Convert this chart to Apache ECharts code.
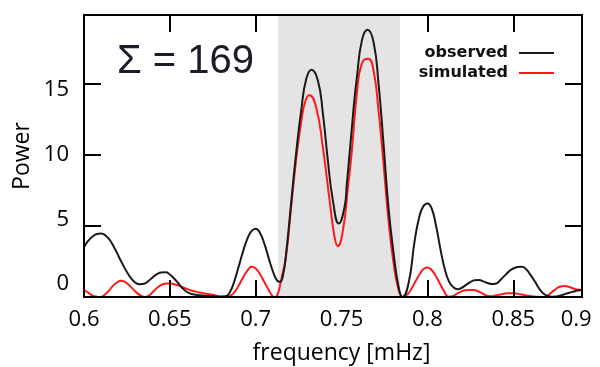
<!DOCTYPE html>
<html><head><meta charset="utf-8">
<script src="https://cdn.jsdelivr.net/npm/echarts@6/dist/echarts.min.js"></script>
<style>html,body{margin:0;padding:0;background:#fff}#c{width:600px;height:367px}</style>
</head><body><div id="c"></div>
<script>
// frequency [mHz], power
const observed = [
[0.600,3.5],[0.6025,3.95],[0.605,4.25],[0.6075,4.42],[0.610,4.45],[0.6125,4.32],[0.615,4.0],[0.6175,3.5],
[0.620,2.9],[0.6225,2.3],[0.625,1.75],[0.6275,1.3],[0.630,1.0],[0.6325,0.9],[0.635,0.93],[0.6375,1.12],
[0.640,1.38],[0.6425,1.6],[0.645,1.72],[0.6475,1.73],[0.650,1.58],[0.6525,1.3],[0.655,0.95],[0.6575,0.6],
[0.660,0.35],[0.6625,0.22],[0.665,0.16],[0.6675,0.12],[0.670,0.09],[0.6725,0.07],[0.675,0.05],[0.6775,0.03],
[0.680,0.02],[0.6825,0.05],[0.685,0.35],[0.6875,1.1],[0.690,2.1],[0.6925,3.15],[0.695,4.05],[0.6975,4.62],
[0.700,4.8],[0.7025,4.5],[0.705,3.75],[0.7075,2.75],[0.710,1.8],[0.7125,1.15],[0.7142,1.07],[0.716,1.6],
[0.7177,3.06],[0.7206,6.57],[0.7235,10.07],[0.7265,13.1],[0.7294,15.3],[0.7325,15.96],[0.7362,15.2],
[0.7391,12.9],[0.742,9.6],[0.7449,6.8],[0.7484,5.16],[0.7517,6.3],[0.7531,8.0],[0.7546,10.0],[0.756,11.9],
[0.7575,13.9],[0.7589,15.4],[0.7618,18.0],[0.7651,18.76],[0.7686,17.9],[0.7715,15.0],[0.7744,10.8],
[0.7773,6.3],[0.7803,3.06],[0.7832,0.72],[0.7855,0.0],[0.789,0.96],[0.7925,3.9],[0.795,5.5],[0.7975,6.35],
[0.800,6.57],[0.8025,6.2],[0.805,5.0],[0.8075,3.4],[0.810,2.0],[0.8125,1.1],[0.815,0.7],[0.8175,0.55],
[0.820,0.65],[0.8225,0.85],[0.825,1.05],[0.8275,1.18],[0.830,1.2],[0.8325,1.1],[0.835,0.98],[0.8375,0.91],
[0.840,0.95],[0.8425,1.2],[0.845,1.5],[0.8475,1.8],[0.850,2.0],[0.8525,2.1],[0.855,2.12],[0.8575,1.95],
[0.860,1.55],[0.8625,1.1],[0.865,0.6],[0.8675,0.25],[0.870,0.08],[0.8725,0.02],[0.875,0.03],[0.8775,0.1],
[0.880,0.2],[0.8825,0.3],[0.885,0.38],[0.8875,0.45],[0.890,0.49]
];
const simulated = [
[0.600,0.5],[0.6025,0.3],[0.605,0.1],[0.6075,0.02],[0.6095,0.0],[0.612,0.15],[0.6145,0.45],[0.617,0.8],
[0.6195,1.05],[0.6215,1.14],[0.624,1.05],[0.6265,0.8],[0.629,0.5],[0.6315,0.22],[0.634,0.04],[0.6355,0.0],
[0.638,0.12],[0.6405,0.4],[0.643,0.68],[0.6455,0.87],[0.648,0.95],[0.6505,0.95],[0.653,0.88],[0.6555,0.78],
[0.658,0.66],[0.6605,0.54],[0.663,0.44],[0.6655,0.36],[0.668,0.3],[0.6705,0.25],[0.673,0.2],[0.6755,0.14],
[0.678,0.08],[0.6805,0.03],[0.683,0.02],[0.6855,0.1],[0.688,0.4],[0.6905,0.9],[0.693,1.45],[0.6955,1.9],
[0.6975,2.12],[0.700,2.0],[0.7025,1.6],[0.705,1.05],[0.7075,0.5],[0.7095,0.1],[0.711,0.0],[0.7125,0.1],
[0.7148,1.2],[0.7177,2.9],[0.7206,6.3],[0.7235,9.6],[0.7265,12.3],[0.729,13.8],[0.7313,14.16],[0.7352,13.3],
[0.7391,10.5],[0.743,6.8],[0.7459,4.2],[0.7478,3.57],[0.7508,4.7],[0.7537,7.7],[0.756,10.3],[0.7589,14.3],
[0.7618,16.4],[0.7655,16.73],[0.7686,15.9],[0.7715,13.1],[0.7744,9.4],[0.7773,5.4],[0.7803,2.36],
[0.7832,0.5],[0.7857,0.0],[0.7885,0.2],[0.791,0.65],[0.7935,1.2],[0.796,1.7],[0.798,2.0],[0.800,2.08],
[0.802,1.95],[0.8045,1.55],[0.807,1.0],[0.8095,0.45],[0.8123,0.02],[0.8145,0.05],[0.817,0.22],[0.8195,0.38],
[0.822,0.47],[0.8245,0.5],[0.827,0.49],[0.8295,0.4],[0.832,0.25],[0.8345,0.1],[0.8366,0.05],[0.839,0.08],
[0.8415,0.15],[0.844,0.22],[0.8465,0.26],[0.849,0.27],[0.8515,0.25],[0.854,0.2],[0.8565,0.14],[0.859,0.08],
[0.8615,0.04],[0.864,0.01],[0.8675,0.0],[0.870,0.12],[0.8725,0.35],[0.875,0.58],[0.8775,0.74],[0.880,0.77],
[0.8825,0.7],[0.885,0.6],[0.8875,0.52],[0.890,0.49]
];
const bandRange = [0.7131, 0.784];
const xTickValues = [0.65, 0.7, 0.8, 0.85];
const xLabelValues = [0.6, 0.65, 0.7, 0.75, 0.8, 0.85, 0.8866];
const xLabelTexts = ['0.6', '0.65', '0.7', '0.75', '0.8', '0.85', '0.9'];
const yTickValues = [5, 10, 15];
const yLabelValues = [0, 5, 10, 15];
const sumText = '\u03A3 = 169';

const chart = echarts.init(document.getElementById('c'), null, {renderer: 'canvas'});
const frameLine = {show: true, onZero: false, lineStyle: {color: '#000', width: 2}};
const tickStyle = {inside: true, length: 17, lineStyle: {color: '#000', width: 2}};
const labelFont = {fontFamily: 'Open Sans', fontSize: 22, color: '#000'};
const nameFont = {fontFamily: 'Open Sans', fontSize: 23, color: '#000'};
chart.setOption({
  animation: false,
  backgroundColor: '#fff',
  title: {text: sumText, left: 117, top: 42, padding: 0,
    textStyle: {fontFamily: 'Liberation Sans', fontSize: 40, fontWeight: 'normal', color: '#1c1c28'}},
  legend: {orient: 'vertical', right: 41, top: 40, align: 'right', icon: 'rect',
    itemWidth: 35, itemHeight: 2, itemGap: 4, data: ['observed', 'simulated'],
    textStyle: {fontFamily: 'DejaVu Sans', fontWeight: 'bold', fontSize: 16, color: '#111', padding: [0, 6, 0, 0]}},
  grid: {left: 84, right: 18, top: 15, bottom: 70, outerBoundsMode: 'none', containLabel: false},
  xAxis: [
    {type: 'value', position: 'bottom', min: 0.6, max: 0.89, z: 5,
      axisLine: frameLine,
      axisTick: Object.assign({customValues: xTickValues}, tickStyle),
      axisLabel: Object.assign({customValues: xLabelValues, margin: 12,
        formatter: v => xLabelTexts[xLabelValues.indexOf(v)] ?? ''}, labelFont),
      splitLine: {show: false},
      name: 'frequency [mHz]', nameLocation: 'middle', nameGap: 45,
      nameTextStyle: Object.assign({padding: [0, 0, 0, 17]}, nameFont)},
    {type: 'value', position: 'top', min: 0.6, max: 0.89, z: 5,
      axisLine: frameLine,
      axisTick: Object.assign({customValues: xTickValues}, tickStyle),
      axisLabel: {show: false}, splitLine: {show: false}}
  ],
  yAxis: [
    {type: 'value', position: 'left', min: 0, max: 19.8, z: 5,
      axisLine: frameLine,
      axisTick: Object.assign({customValues: yTickValues}, tickStyle),
      axisLabel: {show: false}, splitLine: {show: false},
      name: 'Power', nameLocation: 'middle', nameGap: 50, nameTextStyle: nameFont},
    {type: 'value', position: 'right', min: 0, max: 19.8, z: 5,
      axisLine: frameLine,
      axisTick: Object.assign({customValues: yTickValues}, tickStyle),
      axisLabel: {show: false}, splitLine: {show: false}},
    {type: 'value', position: 'left', min: -1.005, max: 20.8, z: 5,
      axisLine: {show: false}, axisTick: {show: false}, splitLine: {show: false},
      axisLabel: Object.assign({customValues: yLabelValues, margin: 15}, labelFont)}
  ],
  series: [
    {name: 'simulated', type: 'line', data: simulated, xAxisIndex: 0, yAxisIndex: 0, z: 1,
      showSymbol: false, symbol: 'none', smooth: 0.5,
      lineStyle: {color: '#ff1a1a', width: 2}, itemStyle: {color: '#ff1a1a'},
      markArea: {silent: true, itemStyle: {color: '#e4e4e4'},
        data: [[{xAxis: bandRange[0]}, {xAxis: bandRange[1]}]]}},
    {name: 'observed', type: 'line', data: observed, xAxisIndex: 0, yAxisIndex: 0, z: 2,
      showSymbol: false, symbol: 'none', smooth: 0.5,
      lineStyle: {color: '#1a1a1a', width: 2}, itemStyle: {color: '#1a1a1a'}}
  ]
});
</script>
</body></html>
